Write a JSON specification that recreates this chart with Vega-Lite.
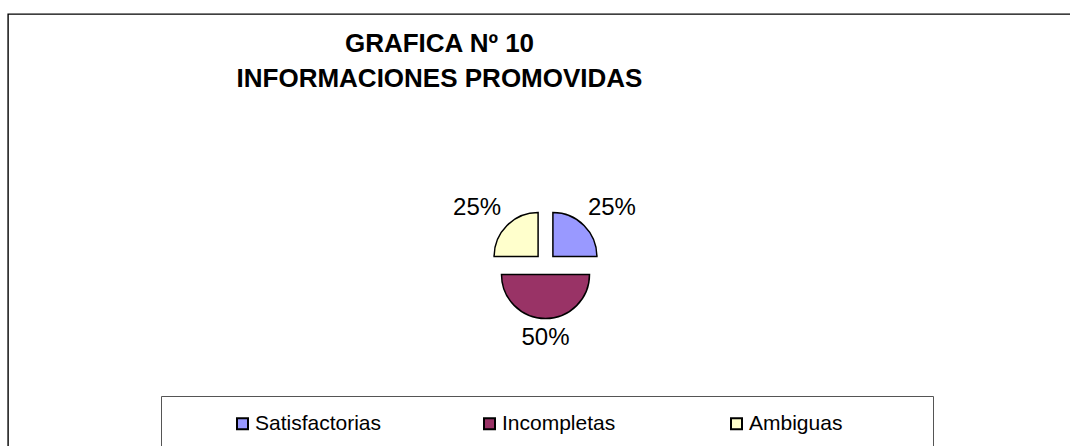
{
  "$schema": "https://vega.github.io/schema/vega-lite/v6.json",
  "width": 1075,
  "height": 500,
  "autosize": {"type": "none"},
  "padding": {"left": 8, "top": 14, "right": 0, "bottom": 0},
  "background": "white",
  "view": {"stroke": "black", "strokeWidth": 1.4, "fill": "white"},
  "title": {
    "text": ["GRAFICA Nº 10", "INFORMACIONES PROMOVIDAS"],
    "fontSize": 26,
    "font": "Liberation Sans",
    "fontWeight": "bold",
    "color": "black",
    "anchor": "middle",
    "frame": "group",
    "dx": -106,
    "dy": 82,
    "lineHeight": 35
  },
  "data": {"values": [
    {"categoria": "Satisfactorias", "valor": 0.25},
    {"categoria": "Incompletas", "valor": 0.5},
    {"categoria": "Ambiguas", "valor": 0.25}
  ]},
  "transform": [{"window": [{"op": "row_number", "as": "idx"}]}],
  "encoding": {
    "theta": {"field": "valor", "type": "quantitative", "stack": true},
    "order": {"field": "idx", "type": "quantitative"}
  },
  "layer": [
    {
      "mark": {"type": "arc", "radius": 44, "stroke": "black", "strokeWidth": 1.5, "xOffset": 7.4, "yOffset": -7.4},
      "encoding": {
        "color": {"field": "categoria", "type": "nominal",
          "scale": {"domain": ["Satisfactorias", "Incompletas", "Ambiguas"], "range": ["#9999FF", "#993366", "#FFFFCC"]},
          "legend": {"orient": "none", "legendX": 153, "legendY": 382, "direction": "horizontal",
            "title": " ", "titleOrient": "right", "titlePadding": 74, "titleFontSize": 10,
            "gridAlign": "all",
            "symbolType": "square", "symbolSize": 121, "symbolStrokeColor": "black", "symbolStrokeWidth": 2, "symbolOpacity": 1,
            "labelFontSize": 21, "labelFont": "Liberation Sans", "labelColor": "black", "labelOffset": 2,
            "columnPadding": 43, "symbolOffset": 54, "padding": 17, "strokeColor": "#555555"}},
        "opacity": {"condition": {"test": "datum.categoria === 'Satisfactorias'", "value": 1}, "value": 0}
      }
    },
    {
      "mark": {"type": "arc", "radius": 44, "stroke": "black", "strokeWidth": 1.5, "xOffset": 0, "yOffset": 10.5},
      "encoding": {
        "color": {"field": "categoria", "type": "nominal"},
        "opacity": {"condition": {"test": "datum.categoria === 'Incompletas'", "value": 1}, "value": 0}
      }
    },
    {
      "mark": {"type": "arc", "radius": 44, "stroke": "black", "strokeWidth": 1.5, "xOffset": -7.4, "yOffset": -7.4},
      "encoding": {
        "color": {"field": "categoria", "type": "nominal"},
        "opacity": {"condition": {"test": "datum.categoria === 'Ambiguas'", "value": 1}, "value": 0}
      }
    },
    {
      "mark": {"type": "text", "radius": 75, "fontSize": 24, "font": "Liberation Sans", "color": "black", "xOffset": 13.4, "yOffset": -3.4},
      "encoding": {
        "text": {"field": "valor", "type": "quantitative", "format": ".0%"},
        "opacity": {"condition": {"test": "datum.categoria === 'Satisfactorias'", "value": 1}, "value": 0}
      }
    },
    {
      "mark": {"type": "text", "radius": 63, "fontSize": 24, "font": "Liberation Sans", "color": "black", "xOffset": 0, "yOffset": 10.5},
      "encoding": {
        "text": {"field": "valor", "type": "quantitative", "format": ".0%"},
        "opacity": {"condition": {"test": "datum.categoria === 'Incompletas'", "value": 1}, "value": 0}
      }
    },
    {
      "mark": {"type": "text", "radius": 75, "fontSize": 24, "font": "Liberation Sans", "color": "black", "xOffset": -15.4, "yOffset": -3.4},
      "encoding": {
        "text": {"field": "valor", "type": "quantitative", "format": ".0%"},
        "opacity": {"condition": {"test": "datum.categoria === 'Ambiguas'", "value": 1}, "value": 0}
      }
    }
  ]
}
